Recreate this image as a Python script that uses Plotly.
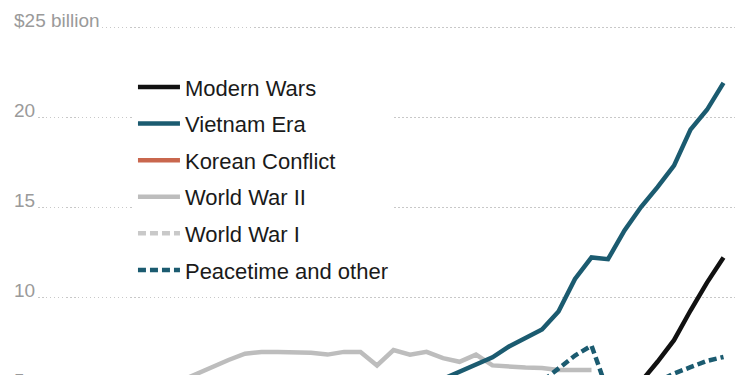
import plotly.graph_objects as go

# ---- data (billions of dollars) ----
modern_years = [2001, 2002, 2003, 2004, 2005, 2006, 2007, 2008, 2009, 2010, 2011, 2012, 2013]
modern_vals = [0.5, 0.8, 1.2, 1.8, 2.5, 3.3, 4.3, 5.3, 6.4, 7.6, 9.25, 10.8, 12.2]

vietnam_years = list(range(1990, 2014))
vietnam_vals = [3.4, 3.6, 3.8, 4.0, 4.3, 4.8, 5.45, 5.85, 6.2, 6.65, 7.25, 7.7,
                8.2, 9.2, 11.0, 12.2, 12.1, 13.7, 15.0, 16.1, 17.3, 19.3, 20.4, 21.9]

korean_years = [1975, 1980, 1985, 1990, 1995, 2000, 2005, 2010, 2013]
korean_vals = [1.6, 1.7, 1.8, 1.8, 1.8, 1.7, 1.6, 1.5, 1.4]

ww2_years = list(range(1975, 2006))
ww2_vals = [4.2, 4.4, 4.6, 4.8, 5.0, 5.3, 5.72, 6.1, 6.5, 6.85, 6.95, 6.95, 6.95,
            6.9, 6.8, 6.95, 6.95, 6.2, 7.05, 6.8, 6.95, 6.6, 6.4, 6.8, 6.2,
            6.12, 6.08, 6.05, 5.95, 5.95, 5.95]

ww1_years = [1975, 1980, 1985, 1990, 1995, 2000, 2005, 2010, 2013]
ww1_vals = [1.2, 1.0, 0.8, 0.6, 0.4, 0.3, 0.2, 0.1, 0.05]

peace_years = list(range(1995, 2014))
peace_vals = [4.3, 4.3, 4.4, 4.5, 4.6, 4.7, 4.8, 5.3, 6.0, 6.75, 7.3, 4.7,
              4.8, 4.9, 5.3, 5.75, 6.1, 6.45, 6.67]

y_ticks = [5, 10, 15, 20, 25]
y_tick_labels = ["5", "10", "15", "20", "$25 billion"]

TEAL = "#1b5b70"
FONT = "Liberation Sans, Arial, sans-serif"

series = [
    ("Modern Wars", modern_years, modern_vals, "#111111", "solid"),
    ("Vietnam Era", vietnam_years, vietnam_vals, TEAL, "solid"),
    ("Korean Conflict", korean_years, korean_vals, "#c9674e", "solid"),
    ("World War II", ww2_years, ww2_vals, "#bdbdbd", "solid"),
    ("World War I", ww1_years, ww1_vals, "#c9c9c9", "8px,4px"),
    ("Peacetime and other", peace_years, peace_vals, TEAL, "8px,4px"),
]

fig = go.Figure()
draw_order = [3, 4, 2, 5, 1, 0]  # grey lines underneath
for j in draw_order:
    name, xs, ys, color, dash = series[j]
    fig.add_trace(go.Scatter(
        x=xs, y=ys, mode="lines", name=name, legendgroup=name,
        legendrank=j + 1,
        line=dict(color=color, width=4.5, dash=dash),
        hoverinfo="skip",
    ))

Y_MIN = 25 - 356 / 18
Y_MAX = 25 + 19 / 18

for v, lab in zip(y_ticks, y_tick_labels):
    fig.add_annotation(
        x=0, xref="paper", y=(v - Y_MIN) / (Y_MAX - Y_MIN), yref="paper",
        text=lab, showarrow=False,
        xanchor="left", yanchor="bottom", yshift=-6, xshift=-2, bgcolor="white",
        font=dict(family=FONT, size=19, color="#9a9a9a"),
        borderpad=1,
    )

fig.update_layout(
    width=750, height=375,
    margin=dict(l=6, r=23, t=0, b=0),
    plot_bgcolor="white", paper_bgcolor="white",
    showlegend=True,
    legend=dict(
        x=0.165, y=0.845, xanchor="left", yanchor="top",
        bgcolor="white", borderwidth=0,
        font=dict(family=FONT, size=22, color="#1a1a1a"),
        tracegroupgap=5, itemwidth=42,
    ),
    xaxis=dict(range=[1970, 1970 + 721 / 16.5], visible=False, showgrid=False),
    yaxis=dict(range=[Y_MIN, Y_MAX], tickvals=y_ticks,
               showticklabels=False, showgrid=True, gridcolor="#c8c8c8",
               griddash="1.5px,2.5px", gridwidth=1, zeroline=False, ticks=""),
)

fig.write_html("out.html")
